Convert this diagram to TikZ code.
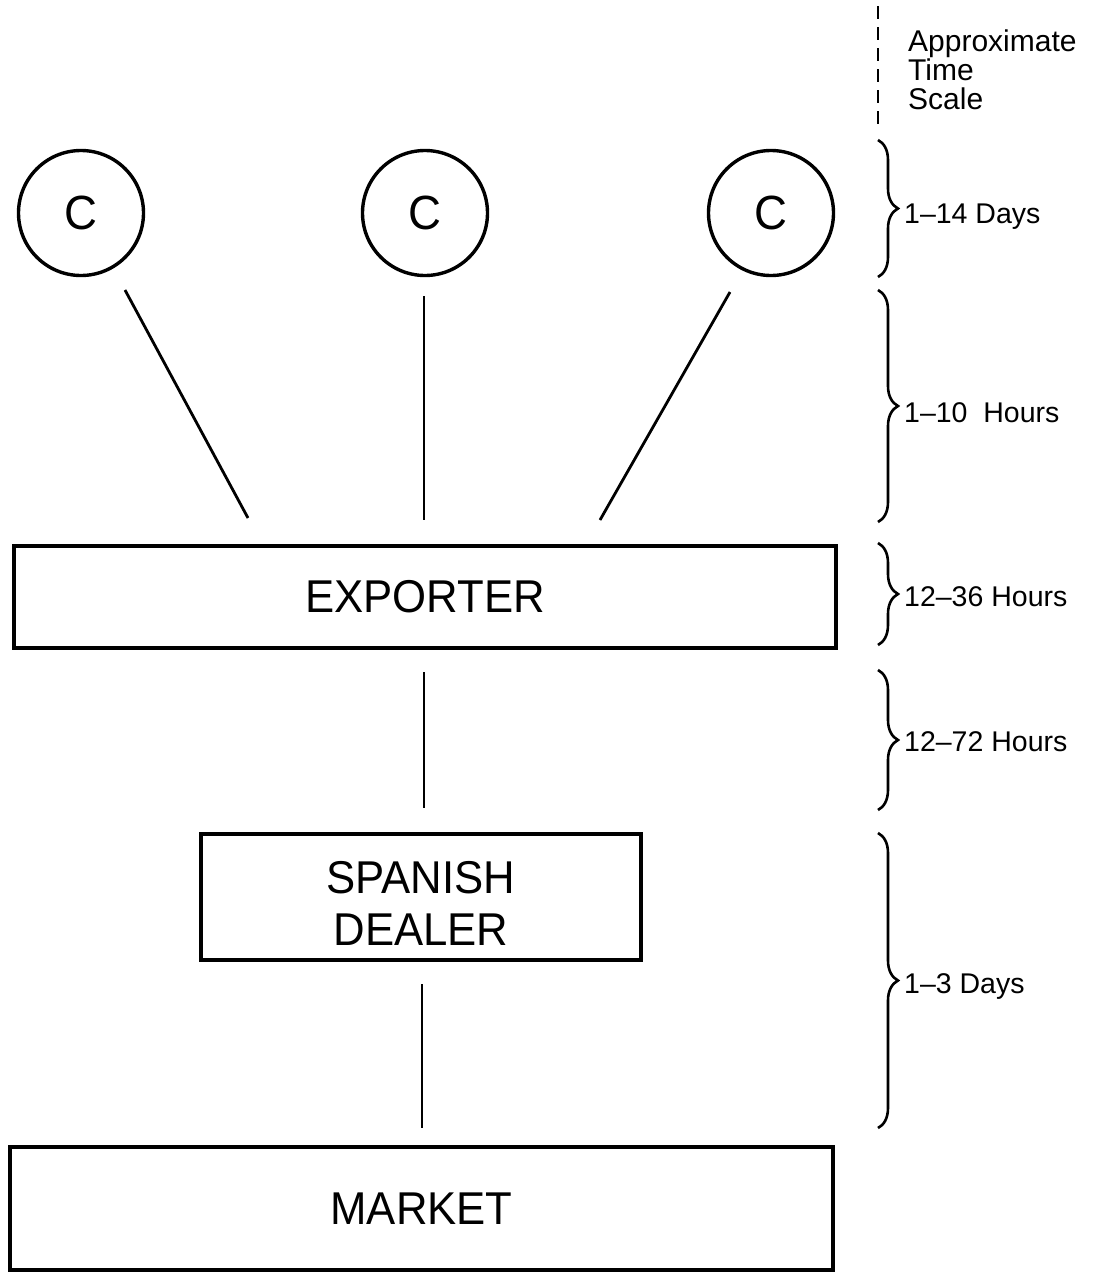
\documentclass[tikz,border=0pt]{standalone}
\usepackage{fontspec}
\setmainfont{Liberation Sans}
\newfontfamily\boxfont{Liberation Sans}[FakeStretch=0.95]
\usetikzlibrary{decorations.pathreplacing}
\begin{document}
\begin{tikzpicture}[x=1pt,y=-1pt,
  circ/.style={circle,draw,line width=3.4pt,minimum size=125pt,inner sep=0pt,font=\boxfont\fontsize{48}{52}\selectfont},
  boxnode/.style={draw,line width=4.4pt,inner sep=0pt,font=\boxfont\fontsize{46}{52}\selectfont,align=center},
  link/.style={line width=2.8pt},
  scalebrace/.style={decorate,decoration={brace,amplitude=20pt},line width=2.6pt},
  scalelabel/.style={anchor=base west,inner sep=0pt,font=\fontsize{28.5}{30}\selectfont}]
\useasboundingbox (0,0) rectangle (1098,1275);
% nodes
\node[circ] (c1) at (81,213) {C};
\node[circ] (c2) at (425,213) {C};
\node[circ] (c3) at (771,213) {C};
\node[boxnode,minimum width=822pt,minimum height=102pt] (exp) at (425,597) {EXPORTER};
\node[boxnode,minimum width=440pt,minimum height=126pt] (dealer) at (421,897) {};
\node[font=\boxfont\fontsize{46}{52}\selectfont,align=center,inner sep=0pt] (dealertext) at (421,903) {SPANISH\\DEALER};
\node[boxnode,minimum width=823pt,minimum height=123pt] (market) at (421.5,1208.5) {MARKET};
% connector end points
\coordinate (c1b) at (125,290);
\coordinate (c2b) at (424,296);
\coordinate (c3b) at (730,292);
\coordinate (e1) at (248,518);
\coordinate (e2) at (424,520);
\coordinate (e3) at (600,520);
\coordinate (eb) at (424,672);
\coordinate (dt) at (424,808);
\coordinate (db) at (422,984);
\coordinate (mt) at (422,1128);
\draw[link] (c1b) -- (e1);
\draw[link] (c2b) -- (e2);
\draw[link] (c3b) -- (e3);
\draw[link] (eb) -- (dt);
\draw[link] (db) -- (mt);
% time scale
\coordinate (dashtop) at (878,6);
\coordinate (dashbot) at (878,128);
\draw[line width=2.8pt,dash pattern=on 13pt off 8pt] (dashtop) -- (dashbot);
\node[anchor=north west,inner sep=0pt,align=left,font=\fontsize{30}{29}\selectfont] (title) at (908,30) {Approximate\\Time\\Scale};
\coordinate (b1t) at (878,140); \coordinate (b1b) at (878,277);
\coordinate (b2t) at (878,290); \coordinate (b2b) at (878,522);
\coordinate (b3t) at (878,543); \coordinate (b3b) at (878,645);
\coordinate (b4t) at (878,670); \coordinate (b4b) at (878,810);
\coordinate (b5t) at (878,833); \coordinate (b5b) at (878,1128);
\draw[scalebrace] (b1t) -- (b1b);
\draw[scalebrace] (b2t) -- (b2b);
\draw[scalebrace] (b3t) -- (b3b);
\draw[scalebrace] (b4t) -- (b4b);
\draw[scalebrace] (b5t) -- (b5b);
\node[scalelabel] (l1) at (904,223) {1–14 Days};
\node[scalelabel] (l2) at (904,422) {1–10\ \ Hours};
\node[scalelabel] (l3) at (904,606) {12–36 Hours};
\node[scalelabel] (l4) at (904,751) {12–72 Hours};
\node[scalelabel] (l5) at (904,993) {1–3 Days};
\end{tikzpicture}
\end{document}
